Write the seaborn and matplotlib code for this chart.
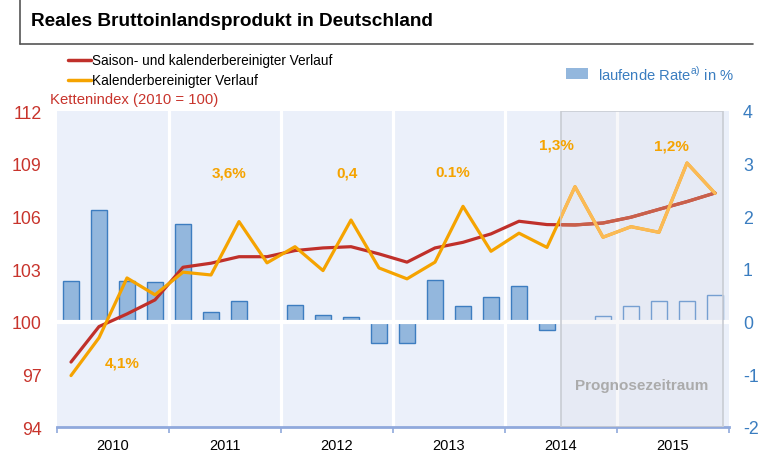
import numpy as np
import pandas as pd
import matplotlib
matplotlib.use("Agg")
import matplotlib.pyplot as plt
from matplotlib.lines import Line2D
from matplotlib.patches import Rectangle
import seaborn as sns

# ---------------- data ----------------
years = ["2010", "2011", "2012", "2013", "2014", "2015"]
quarters = [f"{y}Q{q}" for y in years for q in range(1, 5)]
rate = [0.78, 2.12, 0.77, 0.75,
        1.85, 0.19, 0.39, 0.0,
        0.32, 0.13, 0.08, -0.41,
        -0.41, 0.80, 0.30, 0.46,
        0.67, -0.16, 0.0, 0.10,
        0.30, 0.40, 0.40, 0.50]
seasonal = [97.70, 99.72, 100.44, 101.24,
            103.10, 103.33, 103.70, 103.70,
            104.05, 104.20, 104.27, 103.86,
            103.39, 104.20, 104.52, 105.00,
            105.72, 105.53, 105.51, 105.62,
            105.95, 106.40, 106.84, 107.33]
calendar = [96.93, 99.08, 102.49, 101.53,
            102.82, 102.66, 105.70, 103.35,
            104.27, 102.91, 105.79, 103.06,
            102.44, 103.39, 106.57, 104.01,
            105.04, 104.23, 107.69, 104.81,
            105.41, 105.09, 109.04, 107.31]
annual_labels = ["4,1%", "3,6%", "0,4", "0.1%", "1,3%", "1,2%"]
forecast_start = "2014Q3"
left_ticks = [94, 97, 100, 103, 106, 109, 112]
right_ticks = [-2, -1, 0, 1, 2, 3, 4]

# ---------------- style ----------------
sns.set_theme(style="white")
plt.rcParams["font.family"] = ["Liberation Sans", "DejaVu Sans"]

RED = "#C0302A"
ORANGE = "#F5A300"
RED_FC = "#C9604A"
ORANGE_FC = "#FBBA55"
BAR_FACE = "#93B7DD"
BAR_EDGE = "#3D7DC0"
BLUE_TXT = "#3A7DC0"
RED_TXT = "#C8342C"
AXIS_BLUE = "#90A9DC"
PANEL = "#EBF0FA"

fig = plt.figure(figsize=(7.63, 4.52), dpi=100)
W, H = 763, 452
ax = fig.add_axes([57 / W, 1 - 428 / H, (729 - 57) / W, (428 - 112) / H])
ax.set_facecolor(PANEL)

df = pd.DataFrame({"quarter": quarters, "rate": rate,
                   "seasonal": seasonal, "calendar": calendar})
df["pos"] = np.arange(len(df))

# bars (right scale)
sns.barplot(data=df, x="quarter", y="rate", ax=ax, color=BAR_FACE,
            saturation=1, width=0.54, edgecolor=BAR_EDGE, linewidth=1.0,
            zorder=2)
fc_idx = quarters.index(forecast_start)
for i, p in enumerate(ax.patches):
    if i >= fc_idx:
        p.set_facecolor((1, 1, 1, 0))
        p.set_edgecolor("#6B9AD2")

n = len(quarters)
bounds = [-0.5 + 4 * k for k in range(len(years) + 1)]
for b in bounds[1:-1]:
    ax.axvline(b, color="white", lw=2.3, zorder=1)
ax.axhline(0, color="white", lw=3.0, zorder=3)

ax2 = ax.twinx()
sns.lineplot(data=df, x="pos", y="seasonal", ax=ax2, color=RED, lw=2.3, zorder=4)
sns.lineplot(data=df, x="pos", y="calendar", ax=ax2, color=ORANGE, lw=2.3, zorder=4)

# forecast overlay
fc_x0, fc_x1 = fc_idx - 0.5, n - 0.5 - 0.21
ax2.axvspan(fc_x0, fc_x1, facecolor=(0.78, 0.78, 0.82, 0.13),
            edgecolor="#C9CCD3", lw=1.2, zorder=5)
clip = Rectangle((fc_x0, 90), fc_x1 - fc_x0 + 1, 30, transform=ax2.transData)
sns.lineplot(data=df, x="pos", y="seasonal", ax=ax2, color=RED_FC, lw=2.3, zorder=5.5)
ax2.lines[-1].set_clip_path(clip)
sns.lineplot(data=df, x="pos", y="calendar", ax=ax2, color=ORANGE_FC, lw=2.3, zorder=5.5)
ax2.lines[-1].set_clip_path(clip)

ax2.text((fc_x0 + fc_x1) / 2, 96.4, "Prognosezeitraum", color="#ABABAB",
         fontsize=11, fontweight="bold", ha="center", va="center", zorder=6)

# annual growth labels
label_pos = [(1.82, 97.7), (5.64, 108.5), (9.86, 108.5),
             (13.64, 108.5), (17.32, 110.1), (21.46, 110.05)]
for txt, (xx, yy) in zip(annual_labels, label_pos):
    ax2.text(xx, yy, txt, color=ORANGE, fontsize=11, fontweight="bold",
             ha="center", va="center", zorder=6)

# axes setup
ax.set_xlim(-0.5, n - 0.5)
ax.set_ylim(-2, 4)
ax2.set_ylim(94, 112)
ax.set_yticks(right_ticks)
ax.set_yticklabels([str(t) for t in right_ticks])
ax2.set_yticks(left_ticks)
ax2.set_yticklabels([str(t) for t in left_ticks])
ax.yaxis.tick_right()
ax2.yaxis.tick_left()
ax.tick_params(axis="y", colors=BLUE_TXT, labelsize=12.8, length=0, pad=10)
ax2.tick_params(axis="y", colors=RED_TXT, labelsize=12.8, length=0, pad=11)

ax.set_xticks(bounds)
ax.set_xticklabels([""] * len(bounds))
ax.set_xticks([1.5 + 4 * k for k in range(len(years))], minor=True)
ax.set_xticklabels(years, minor=True)
ax.tick_params(axis="x", which="major", length=4, width=1.2, color=AXIS_BLUE,
               direction="out", bottom=True)
ax.tick_params(axis="x", which="minor", length=0, labelsize=10.5,
               labelcolor="black", pad=8)
for a in (ax, ax2):
    a.set_xlabel("")
    a.set_ylabel("")
    a.grid(False)
    for s in ("left", "right", "top"):
        a.spines[s].set_visible(False)
ax2.spines["bottom"].set_visible(False)
ax.spines["bottom"].set_color(AXIS_BLUE)
ax.spines["bottom"].set_linewidth(2)
ax.spines["bottom"].set_zorder(6)

# title box
fig.text(31 / W, 1 - 22 / H, "Reales Bruttoinlandsprodukt in Deutschland",
         fontsize=13.7, fontweight="bold", ha="left", va="center", color="black")
fig.add_artist(Line2D([20 / W, 20 / W], [1.0, 1 - 45 / H], color="#555555", lw=1.2))
fig.add_artist(Line2D([20 / W, 753 / W], [1 - 45 / H, 1 - 45 / H], color="#555555", lw=1.2))

# legend (left)
fig.add_artist(Line2D([68 / W, 91 / W], [1 - 61 / H] * 2, color=RED, lw=2.5))
fig.text(92 / W, 1 - 61 / H, "Saison- und kalenderbereinigter Verlauf",
         fontsize=9.8, ha="left", va="center", color="black")
fig.add_artist(Line2D([68 / W, 91 / W], [1 - 81 / H] * 2, color=ORANGE, lw=2.5))
fig.text(92 / W, 1 - 81 / H, "Kalenderbereinigter Verlauf",
         fontsize=9.8, ha="left", va="center", color="black")
fig.text(50 / W, 1 - 100 / H, "Kettenindex (2010 = 100)",
         fontsize=10.7, ha="left", va="center", color=RED_TXT)

# legend (right)
fig.add_artist(Rectangle((566 / W, 1 - 80 / H), 22 / W, 11 / H,
                         transform=fig.transFigure, facecolor=BAR_FACE,
                         edgecolor="none"))
fig.text(598 / W, 1 - 74 / H, r"laufende Rate$^{\mathregular{a)}}$ in %",
         fontsize=10.6, ha="left", va="center", color=BLUE_TXT)

fig.savefig("out.png", dpi=100)
